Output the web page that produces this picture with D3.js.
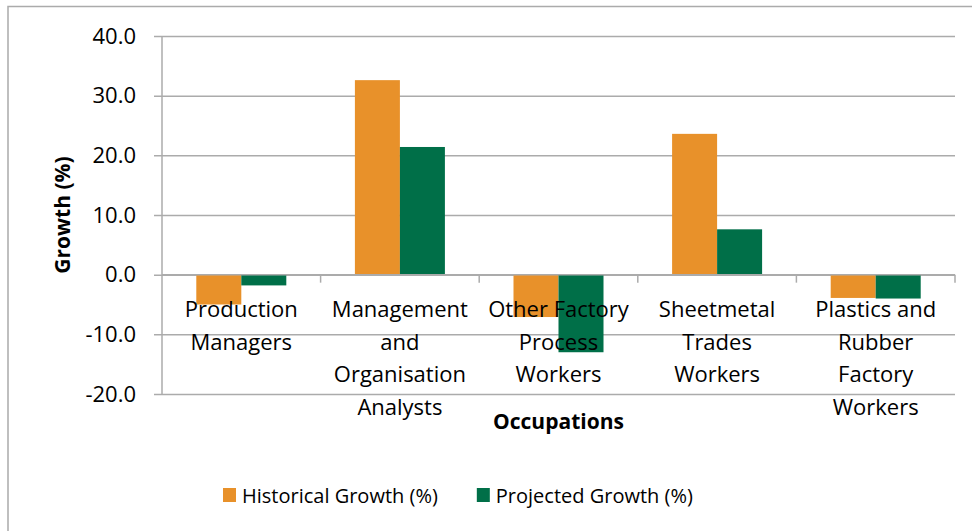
<!DOCTYPE html>
<html>
<head>
    <meta charset="UTF-8">
    <title>Occupation growth</title>
    <script src="https://d3js.org/d3.v7.min.js"></script>
    <style>
        body { margin: 0; background: #fff; }
        text { font-family: "Open Sans", "Noto Sans", sans-serif; fill: #000; }
    </style>
</head>
<body>
<div id="chart"></div>
<script>
    // data
    var categories = ["Production Managers", "Management and Organisation Analysts",
                      "Other Factory Process Workers", "Sheetmetal Trades Workers",
                      "Plastics and Rubber Factory Workers"];
    // line breaks as they appear under the axis
    var categoryLines = [["Production", "Managers"],
                         ["Management", "and", "Organisation", "Analysts"],
                         ["Other Factory", "Process", "Workers"],
                         ["Sheetmetal", "Trades", "Workers"],
                         ["Plastics and", "Rubber", "Factory", "Workers"]];
    var series = ["Historical Growth (%)", "Projected Growth (%)"];
    var historical = [-5.0, 32.6, -7.1, 23.6, -3.9];
    var projected = [-1.8, 21.4, -13.0, 7.6, -4.0];
    var yTicks = [-20, -10, 0, 10, 20, 30, 40];

    var colours = ["#e8912a", "#006f48"];
    var width = 972, height = 531;
    // plot area edges
    var plotLeft = 162, plotRight = 955, plotTop = 36, plotBottom = 394;

    var svg = d3.select("#chart").append("svg")
        .attr("width", width)
        .attr("height", height);

    // outer chart border
    svg.append("rect")
        .attr("x", 8).attr("y", 6.5)
        .attr("width", 980).attr("height", 540)
        .attr("fill", "none")
        .attr("stroke", "#ababab")
        .attr("stroke-width", 1.5);

    var y = d3.scaleLinear()
        .domain([-20, 40])
        .range([plotBottom, plotTop]);

    // category slots (tick marks sit on the boundaries)
    var xCat = d3.scaleBand()
        .domain(categories)
        .range([plotLeft, plotRight]);

    // bar groups inside each slot
    var x0 = d3.scaleBand()
        .domain(categories)
        .range([plotLeft, plotRight])
        .paddingInner(0.4325)
        .paddingOuter(0.21625);

    var x1 = d3.scaleBand()
        .domain(series)
        .range([0, x0.bandwidth()]);

    // y axis with gridlines, plain hyphen for negatives like the original
    var yAxis = d3.axisLeft(y)
        .tickValues(yTicks)
        .tickSize(-(plotRight - plotLeft))
        .tickPadding(18)
        .tickFormat(function(d) { return d.toFixed(1); });

    var gy = svg.append("g")
        .attr("transform", "translate(" + plotLeft + ",0)")
        .call(yAxis);
    gy.select(".domain").remove();
    gy.selectAll(".tick line")
        .attr("x1", -8)
        .attr("stroke", "#ababab")
        .attr("stroke-width", 1.5);
    gy.selectAll(".tick text")
        .attr("x", -26)
        .attr("font-size", "22px")
        .attr("font-family", "Open Sans")
        .attr("fill", "#000");

    // vertical axis line
    svg.append("line")
        .attr("x1", plotLeft).attr("x2", plotLeft)
        .attr("y1", y(40)).attr("y2", y(-20))
        .attr("stroke", "#ababab")
        .attr("stroke-width", 1.5);

    // bars
    var rows = categories.map(function(c, i) {
        return {cat: c, values: [historical[i], projected[i]]};
    });

    var groups = svg.selectAll(".grp")
        .data(rows)
        .enter().append("g")
        .attr("class", "grp")
        .attr("transform", function(d) { return "translate(" + x0(d.cat) + ",0)"; });

    groups.selectAll("rect")
        .data(function(d) {
            return d.values.map(function(v, j) { return {s: series[j], v: v, j: j}; });
        })
        .enter().append("rect")
        .attr("x", function(d) { return x1(d.s); })
        .attr("width", x1.bandwidth())
        .attr("y", function(d) { return y(Math.max(0, d.v)); })
        .attr("height", function(d) { return Math.abs(y(d.v) - y(0)); })
        .attr("fill", function(d) { return colours[d.j]; });

    // x axis line at zero with boundary ticks
    svg.append("line")
        .attr("x1", plotLeft).attr("x2", plotRight)
        .attr("y1", y(0)).attr("y2", y(0))
        .attr("stroke", "#ababab")
        .attr("stroke-width", 1.5);

    var bounds = categories.map(function(c) { return xCat(c) + xCat.bandwidth(); });
    svg.selectAll(".xtick")
        .data(bounds)
        .enter().append("line")
        .attr("class", "xtick")
        .attr("x1", function(d) { return d; })
        .attr("x2", function(d) { return d; })
        .attr("y1", y(0))
        .attr("y2", y(0) + 8)
        .attr("stroke", "#ababab")
        .attr("stroke-width", 1.5);

    // category labels
    var labels = svg.selectAll(".catlabel")
        .data(categories)
        .enter().append("text")
        .attr("class", "catlabel")
        .attr("text-anchor", "middle")
        .attr("font-size", "22px");
    labels.selectAll("tspan")
        .data(function(d, i) { return categoryLines[i].map(function(l) { return {c: d, l: l}; }); })
        .enter().append("tspan")
        .attr("x", function(d) { return xCat(d.c) + xCat.bandwidth() / 2; })
        .attr("y", function(d, k) { return 317 + k * 32.5; })
        .text(function(d) { return d.l; });

    // axis titles
    svg.append("text")
        .attr("transform", "translate(70," + (plotTop + plotBottom) / 2 + ") rotate(-90)")
        .attr("text-anchor", "middle")
        .attr("font-size", "21px")
        .attr("font-weight", "bold")
        .text("Growth (%)");

    svg.append("text")
        .attr("x", (plotLeft + plotRight) / 2)
        .attr("y", 429)
        .attr("text-anchor", "middle")
        .attr("font-size", "21px")
        .attr("font-weight", "bold")
        .text("Occupations");

    // legend
    var legend = svg.append("g");
    var lx = 223;
    series.forEach(function(s, i) {
        legend.append("rect")
            .attr("x", lx).attr("y", 488)
            .attr("width", 13).attr("height", 14)
            .attr("fill", colours[i]);
        var t = legend.append("text")
            .attr("x", lx + 19)
            .attr("y", 502.5)
            .attr("font-size", "20px")
            .text(s);
        lx = lx + 19 + t.node().getComputedTextLength() + 39;
    });
</script>
</body>
</html>
